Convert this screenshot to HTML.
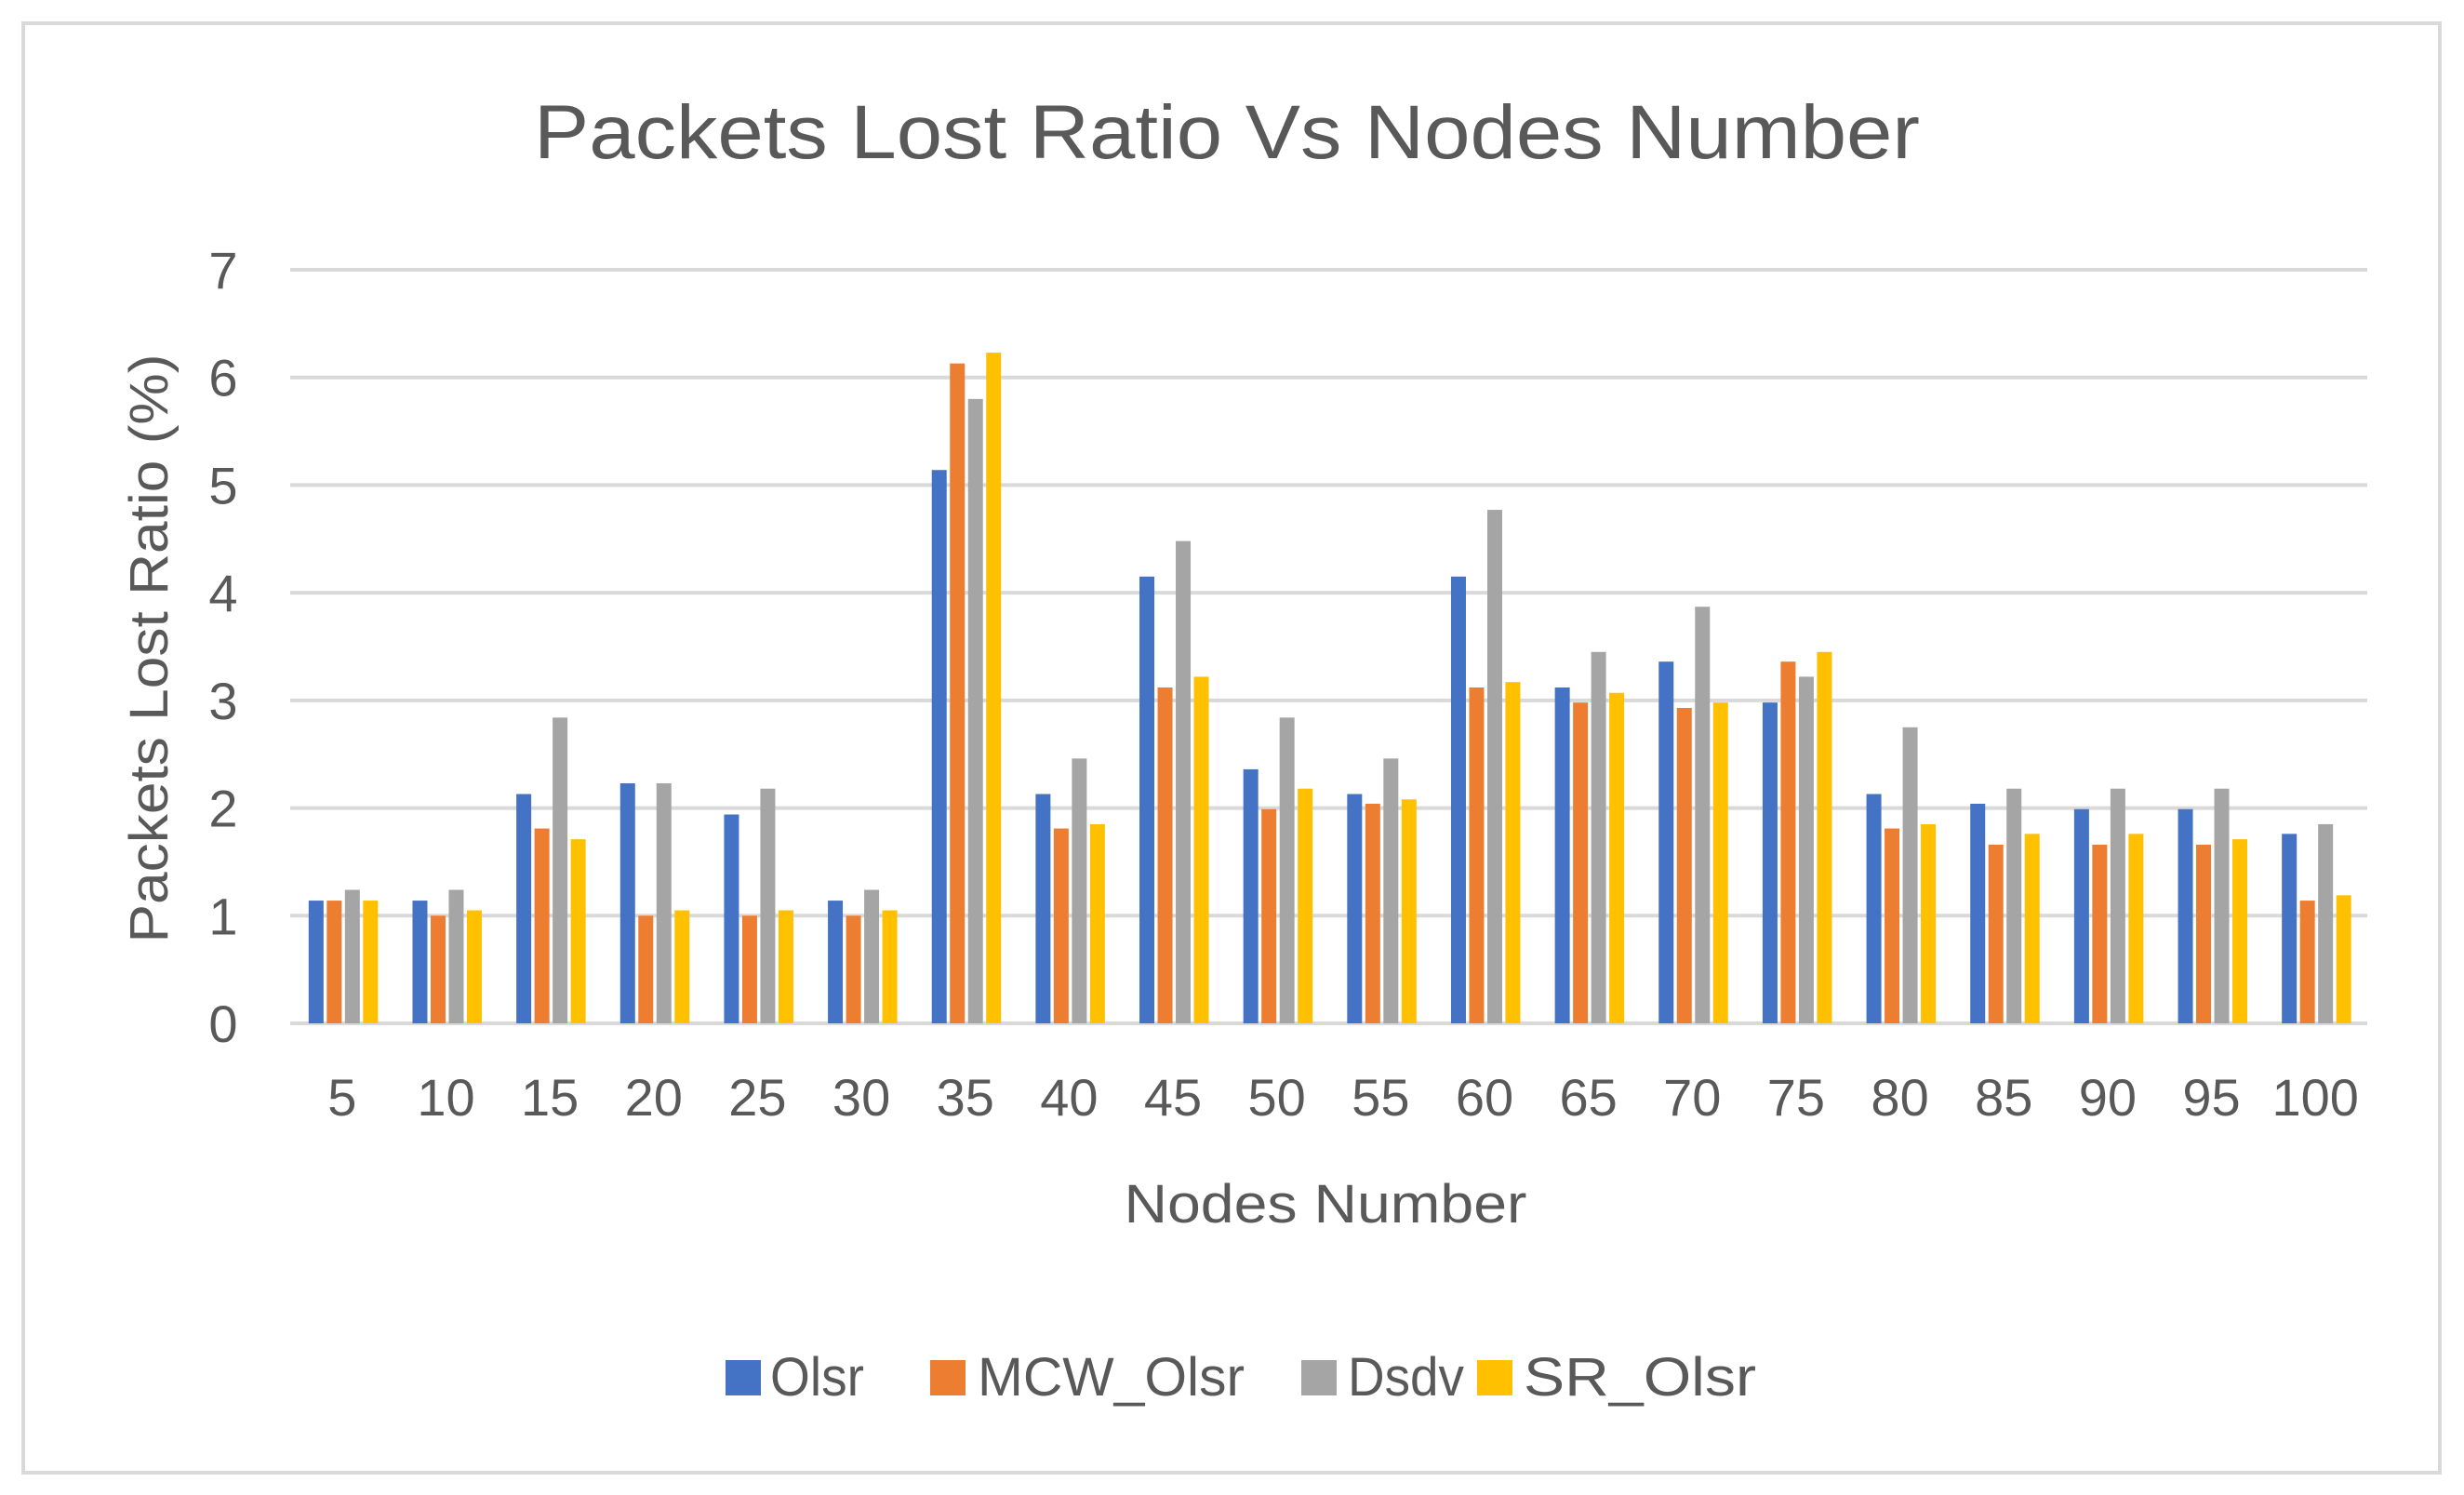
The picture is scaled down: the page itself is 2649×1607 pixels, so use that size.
<!DOCTYPE html>
<html><head><meta charset="utf-8"><style>
html,body{margin:0;padding:0;background:#fff;}
svg{display:block;font-family:"Liberation Sans",sans-serif;}
</style></head><body>
<svg id="chart" width="2649" height="1607" viewBox="0 0 2649 1607" xmlns="http://www.w3.org/2000/svg">
<rect x="25" y="25" width="2598" height="1558" fill="#fff" stroke="#d9d9d9" stroke-width="4"/>
<text x="1319" y="170" text-anchor="middle" font-size="82" fill="#595959" textLength="1490" lengthAdjust="spacingAndGlyphs">Packets Lost Ratio Vs Nodes Number</text>
<g id="grid"></g>
<g id="bars"></g>
<g id="yticks"></g>
<g id="xticks"></g>
<text transform="translate(180,697) rotate(-90)" text-anchor="middle" font-size="58" fill="#595959" textLength="633" lengthAdjust="spacingAndGlyphs">Packets Lost Ratio (%)</text>
<text x="1425" y="1314" text-anchor="middle" font-size="58" fill="#595959" textLength="433" lengthAdjust="spacingAndGlyphs">Nodes Number</text>
<g>
<g><rect x="780" y="1462" width="38" height="38" fill="#4472c4"/><text x="828" y="1500" font-size="58" fill="#595959" textLength="101" lengthAdjust="spacingAndGlyphs">Olsr</text></g>
<g><rect x="1000" y="1462" width="38" height="38" fill="#ed7d31"/><text x="1051" y="1500" font-size="58" fill="#595959" textLength="287" lengthAdjust="spacingAndGlyphs">MCW_Olsr</text></g>
<g><rect x="1399" y="1462" width="38" height="38" fill="#a5a5a5"/><text x="1449" y="1500" font-size="58" fill="#595959" textLength="125" lengthAdjust="spacingAndGlyphs">Dsdv</text></g>
<g><rect x="1588" y="1462" width="38" height="38" fill="#ffc000"/><text x="1638" y="1500" font-size="58" fill="#595959" textLength="250" lengthAdjust="spacingAndGlyphs">SR_Olsr</text></g>
</g>
</svg>
<script>
const categories = ["5","10","15","20","25","30","35","40","45","50","55","60","65","70","75","80","85","90","95","100"];
const olsr = [1.14,1.14,2.13,2.23,1.94,1.14,5.14,2.13,4.15,2.36,2.13,4.15,3.12,3.36,2.98,2.13,2.04,1.99,1.99,1.76];
const mcwOlsr = [1.14,1.0,1.81,1.0,1.0,1.0,6.13,1.81,3.12,1.99,2.04,3.12,2.98,2.93,3.36,1.81,1.66,1.66,1.66,1.14];
const dsdv = [1.24,1.24,2.84,2.23,2.18,1.24,5.80,2.46,4.48,2.84,2.46,4.77,3.45,3.87,3.22,2.75,2.18,2.18,2.18,1.85];
const srOlsr = [1.14,1.05,1.71,1.05,1.05,1.05,6.23,1.85,3.22,2.18,2.08,3.17,3.07,2.98,3.45,1.85,1.76,1.76,1.71,1.19];
const yTicks = [0,1,2,3,4,5,6,7];
const seriesNames = ["olsr","mcw-olsr","dsdv","sr-olsr"];
const seriesData = [olsr, mcwOlsr, dsdv, srOlsr];
const colors = ["#4472c4","#ed7d31","#a5a5a5","#ffc000"];

const NS = "http://www.w3.org/2000/svg";
const L = 312, R = 2545, T = 290, B = 1100, YMAX = 7;
const y = v => B - (v / YMAX) * (B - T);
const band = (R - L) / categories.length;
const xc = i => L + band * (i + 0.5);
function mk(tag, attrs, parent, txt) {
  const e = document.createElementNS(NS, tag);
  for (const k in attrs) e.setAttribute(k, attrs[k]);
  if (txt !== undefined) e.textContent = txt;
  parent.appendChild(e);
  return e;
}
const grid = document.getElementById('grid');
const yt = document.getElementById('yticks');
yTicks.forEach(t => {
  const g = mk('line', {x1: L, x2: R, y1: y(t), y2: y(t), stroke: '#d9d9d9', 'stroke-width': 4}, grid);
  
  
  const lbl = mk('text', {x: 240, y: y(t) + 20, 'text-anchor': 'middle', 'font-size': 56, fill: '#595959'}, yt, String(t));
  
  
});
const bars = document.getElementById('bars');
const xt = document.getElementById('xticks');
const bw = 16, step = 19.5;
categories.forEach((c, i) => {
  seriesData.forEach((s, j) => {
    const v = s[i];
    const r = mk('rect', {x: xc(i) - 36 + j * step, y: y(v), width: bw, height: B - y(v), fill: colors[j]}, bars);
    
    
  });
  const lbl = mk('text', {x: xc(i), y: 1199, 'text-anchor': 'middle', 'font-size': 56, fill: '#595959'}, xt, c);
  
  
});
</script>
</body></html>
